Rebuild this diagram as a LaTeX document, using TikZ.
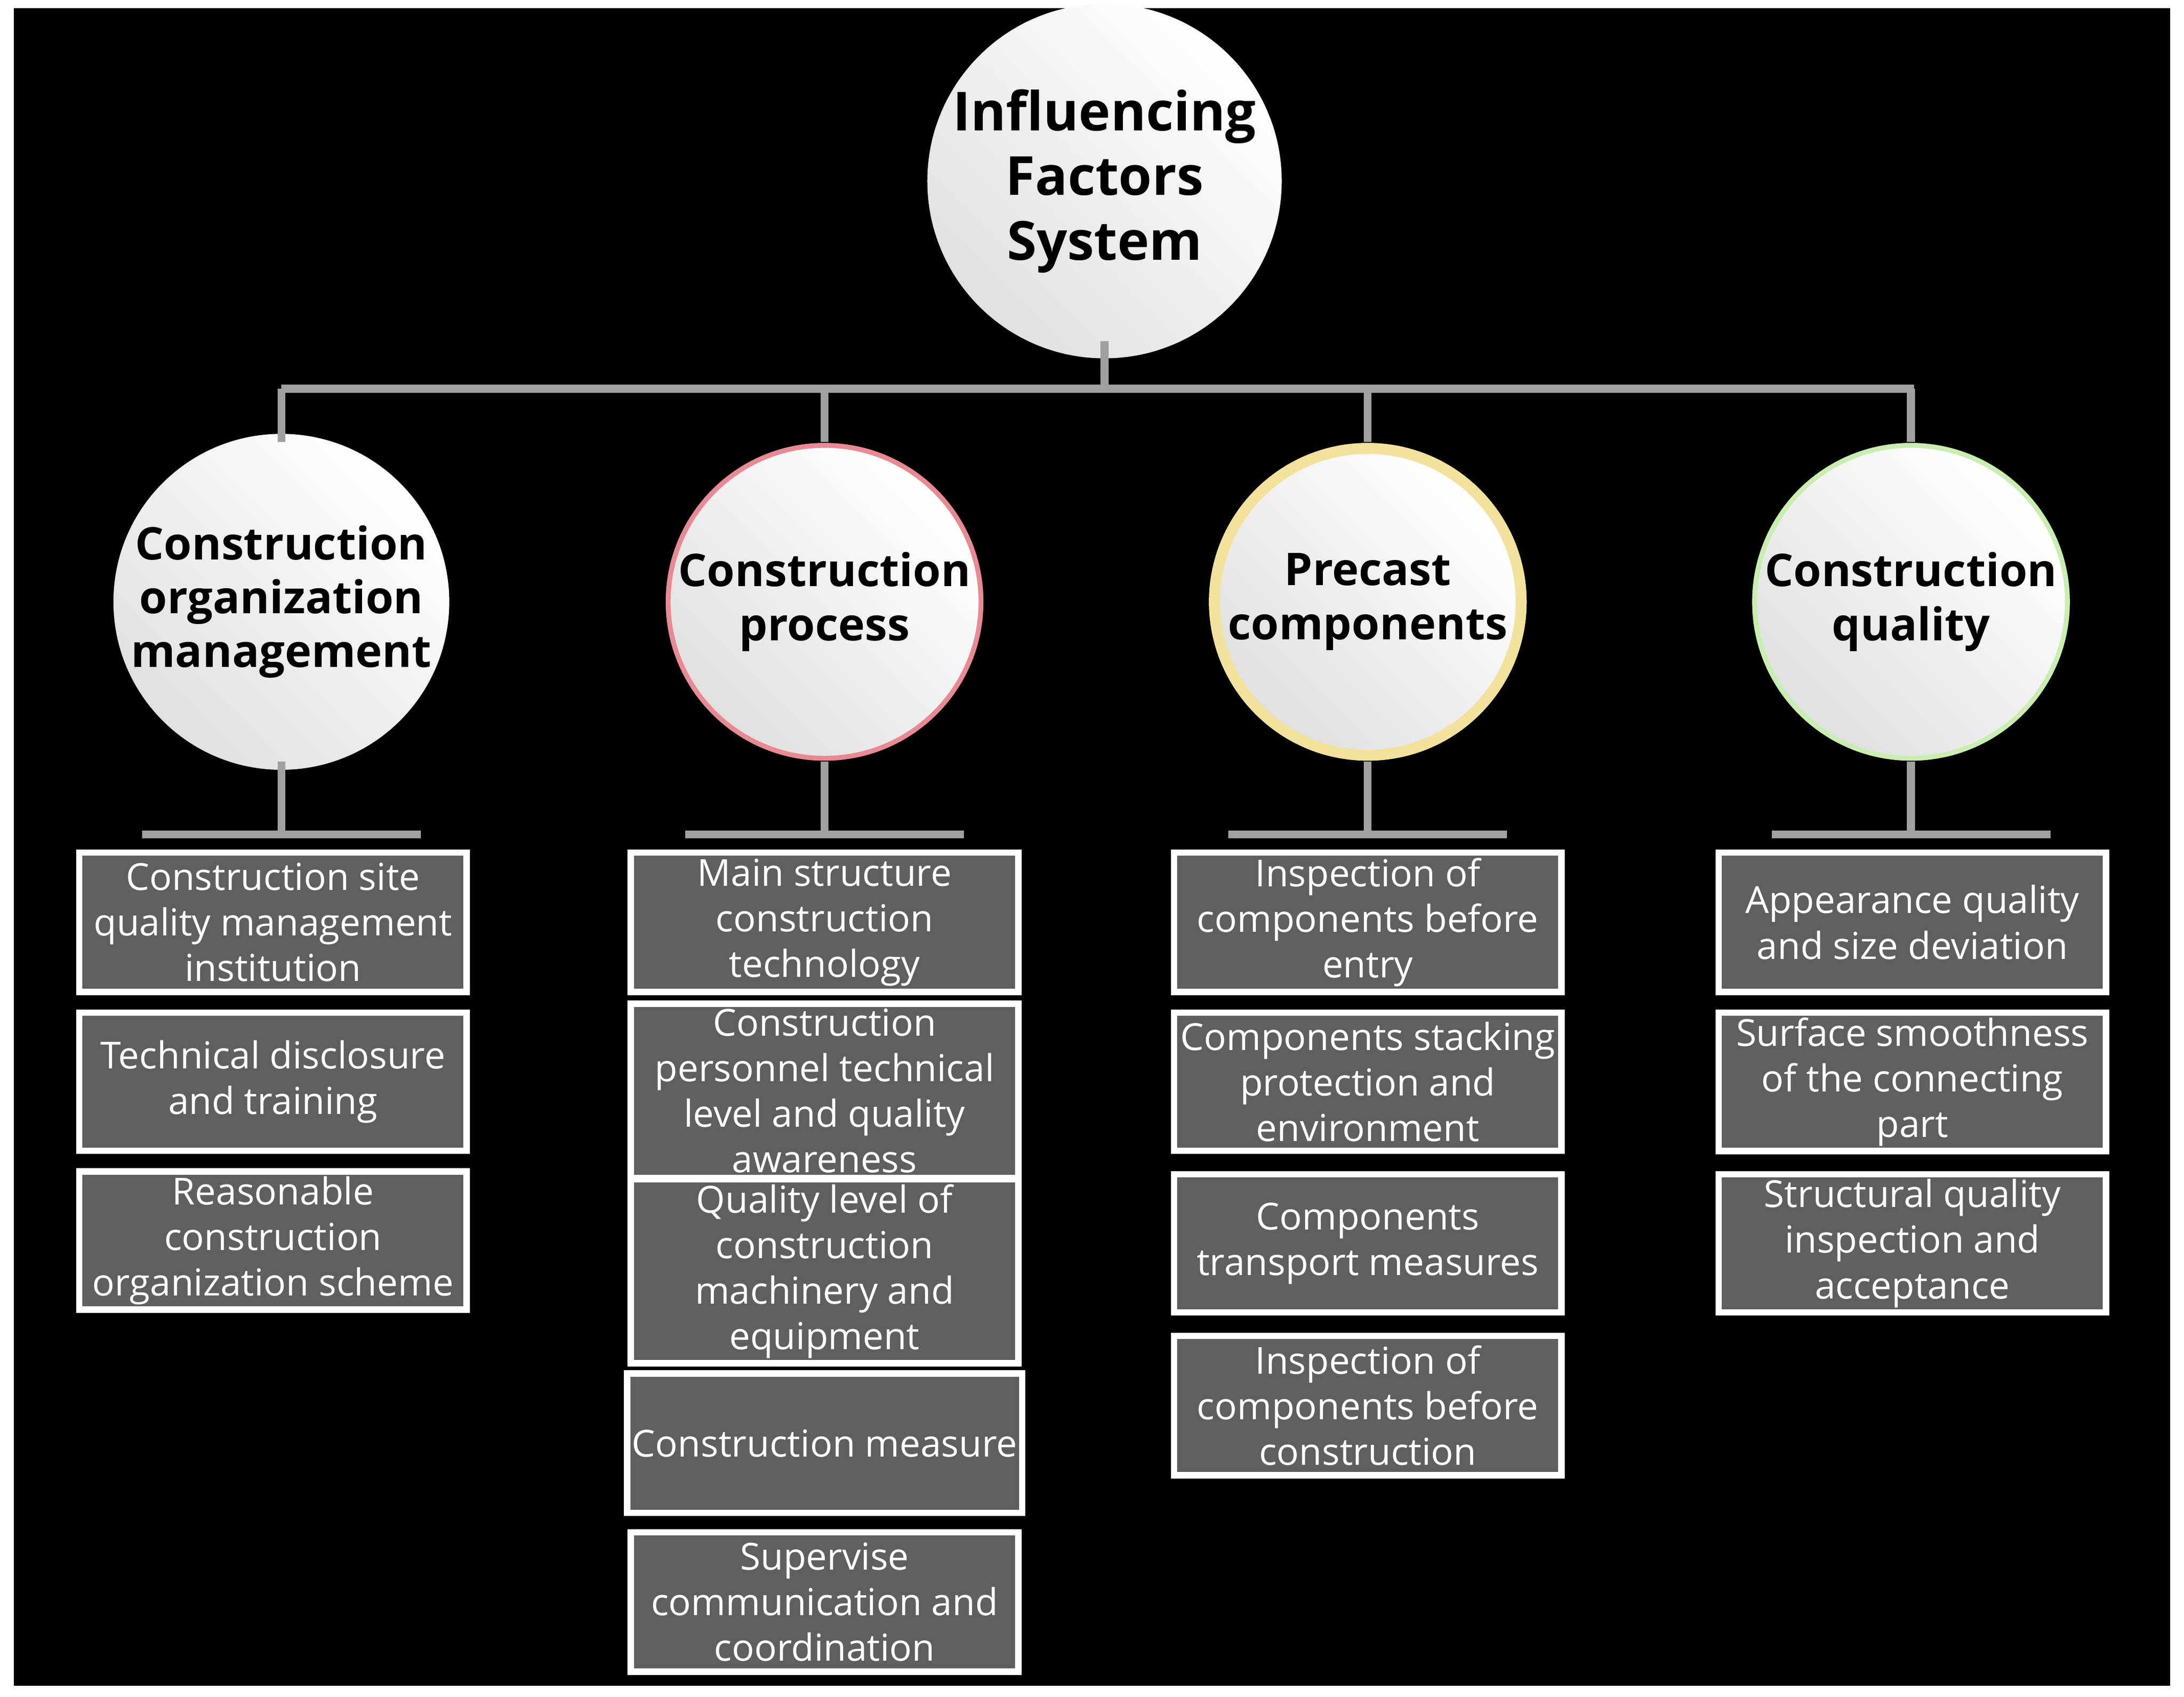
\documentclass[tikz,border=0pt]{standalone}
\usepackage{fontspec}
\setmainfont{Open Sans}
\begin{document}
\begin{tikzpicture}[x=0.01cm,y=-0.01cm,
  ring/.style={circle,minimum size=2.28cm,inner sep=0pt},
  core/.style={circle,minimum size=1.9cm,inner sep=0pt,left color=black!12,right color=white,shading angle=135,align=center,font=\bfseries\fontsize{9.2}{11}\selectfont,text=black},
  box/.style={draw=white,line width=1.3pt,fill=boxg,text=white,minimum width=2.78cm,align=center,inner sep=1pt,font=\fontsize{7.6}{9.3}\selectfont},
  conn/.style={draw=lineg,line width=1.6pt}]
\definecolor{boxg}{HTML}{5F5F5F}
\definecolor{lineg}{HTML}{A0A0A0}
\definecolor{c1}{HTML}{B4E8EA}
\definecolor{c2}{HTML}{E88A94}
\definecolor{c3}{HTML}{F2E29C}
\definecolor{c4}{HTML}{C8EEB0}
\useasboundingbox (0,0) rectangle (1568,1218);
\fill[white] (0,0) rectangle (1568,1218);
\fill[black] (10,6) rectangle (1558,1210);
% connectors first
\coordinate (hub) at (793,279);
\coordinate (hl) at (202,279);
\coordinate (hr) at (1374,279);
\node[ring,fill=boxg] (top) at (793,130) {};
\node[core,minimum size=1.92cm,font=\bfseries\fontsize{11}{13.2}\selectfont] (topc) at (793,130) {Influencing\\Factors\\System};
\foreach \i/\x/\c/\t in {1/202/c1/{Construction\\organization\\management},2/592/c2/{Construction\\process},3/982/c3/{Precast\\components},4/1372/c4/{Construction\\quality}}{
  \coordinate (b\i) at (\x,279);
  \coordinate (bar\i) at (\x,599);
  \coordinate (barl\i) at (\x-100,599);
  \coordinate (barr\i) at (\x+100,599);
  \node[ring,fill=\c] (r\i) at (\x,432) {};
  \node[core] (k\i) at (\x,432) {\t};
}
\draw[conn] (top.south) -- (hub);
\draw[conn] (hl) -- (hr);
\foreach \i in {1,2,3,4}{
  \draw[conn] (b\i) -- (r\i.north);
  \draw[conn] (r\i.south) -- (bar\i);
  \draw[conn] (barl\i) -- (barr\i);
}
% column 1
\node[box,minimum height=1.0cm] (a1) at (196,662) {Construction site\\quality management\\institution};
\node[box,minimum height=0.99cm] (a2) at (196,776.5) {Technical disclosure\\and training};
\node[box,minimum height=0.99cm] (a3) at (196,890.5) {Reasonable\\construction\\organization scheme};
% column 2
\node[box,minimum height=1.0cm] (p1) at (592,662) {Main structure\\construction\\technology};
\node[box,minimum height=1.12cm] (p2) at (592,783) {Construction\\personnel technical\\level and quality\\awareness};
\node[box,minimum height=1.19cm] (p3) at (592,912.5) {Quality level of\\construction\\machinery and\\equipment};
\node[box,minimum height=1.0cm] (p4) at (592,1036) {Construction measure};
\node[box,minimum height=1.0cm] (p5) at (592,1150) {Supervise\\communication and\\coordination};
% column 3
\node[box,minimum height=1.0cm] (q1) at (982,662) {Inspection of\\components before\\entry};
\node[box,minimum height=0.99cm] (q2) at (982,776.5) {Components stacking\\protection and\\environment};
\node[box,minimum height=0.99cm] (q3) at (982,892.5) {Components\\transport measures};
\node[box,minimum height=1.0cm] (q4) at (982,1009) {Inspection of\\components before\\construction};
% column 4
\node[box,minimum height=1.0cm] (s1) at (1373,662) {Appearance quality\\and size deviation};
\node[box,minimum height=0.99cm] (s2) at (1373,776.5) {Surface smoothness\\of the connecting\\part};
\node[box,minimum height=0.99cm] (s3) at (1373,892.5) {Structural quality\\inspection and\\acceptance};
\end{tikzpicture}
\end{document}
